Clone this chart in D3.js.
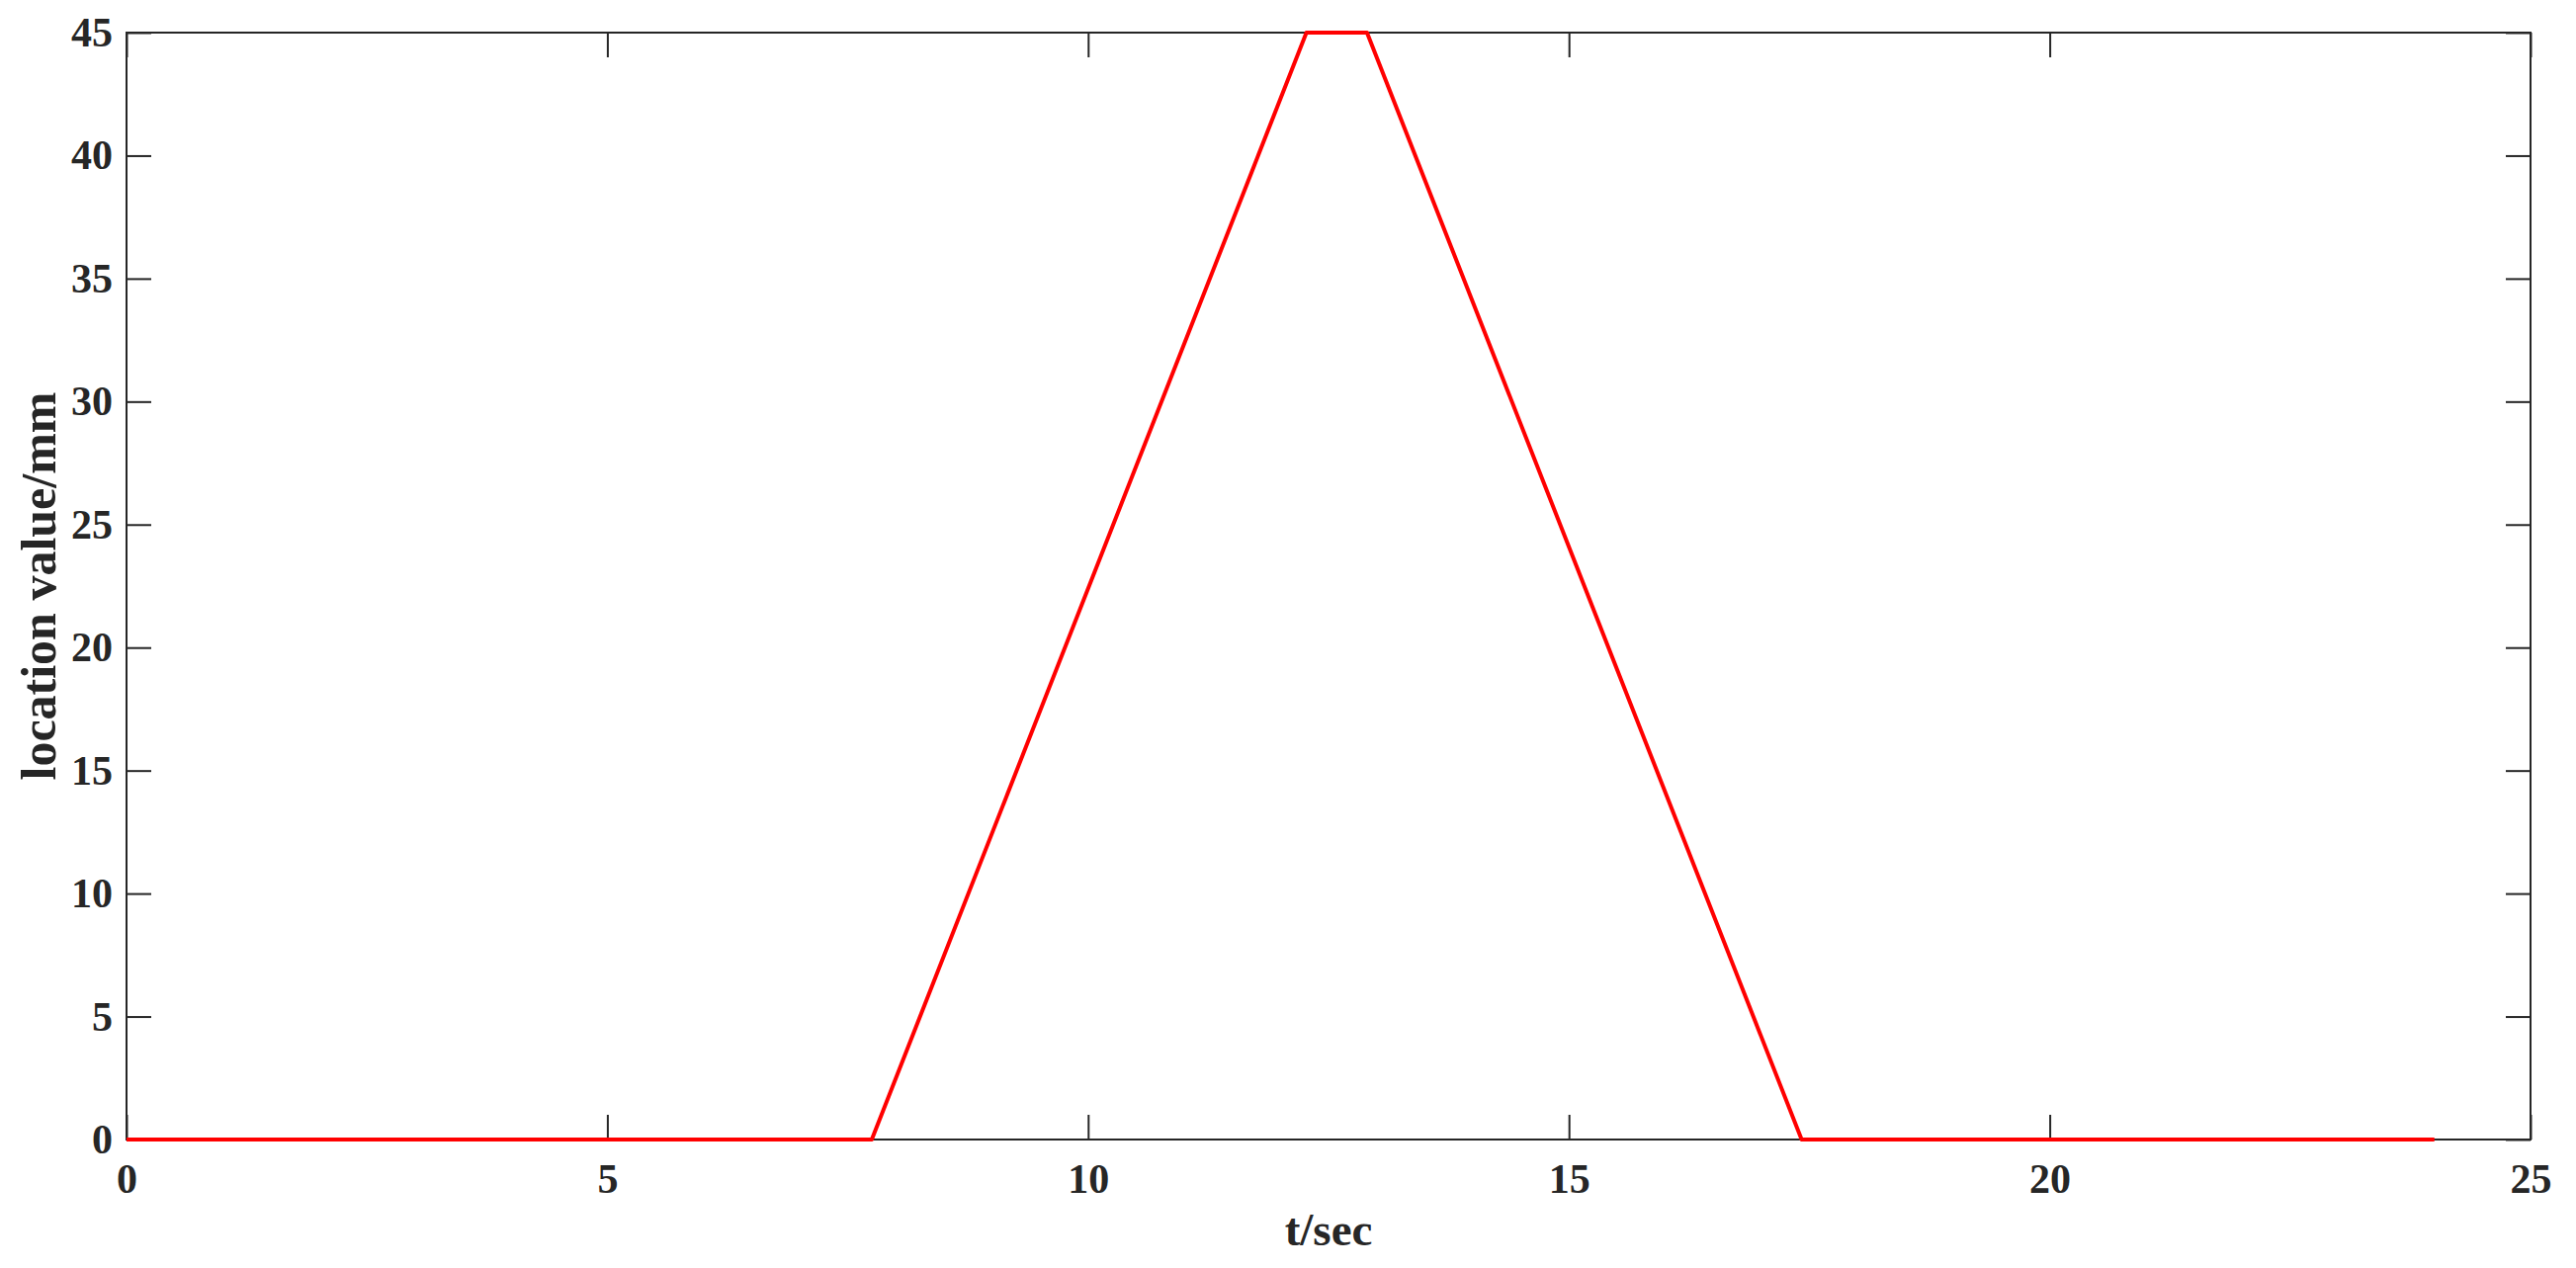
<!DOCTYPE html>
<html>
<head>
<meta charset="utf-8">
<script src="https://cdn.jsdelivr.net/npm/d3@7"></script>
<style>
  body { margin: 0; background: #fff; }
  svg text { font-family: "Liberation Serif", "Times New Roman", serif; font-weight: bold; fill: #262626; }
</style>
</head>
<body>
<svg id="chart"></svg>
<script>
// values
const timeValues = [0, 7.75, 12.27, 12.9, 17.42, 24];
const locationValues = [0, 0, 45, 45, 0, 0];
const xTicks = [0, 5, 10, 15, 20, 25];
const yTicks = [0, 5, 10, 15, 20, 25, 30, 35, 40, 45];

const width = 2606, height = 1283;
const margin = { left: 128, right: 46, top: 33, bottom: 130 };

const svg = d3.select('#chart')
    .attr('width', width)
    .attr('height', height);

const x = d3.scaleLinear()
    .domain([0, 25])
    .range([margin.left, width - margin.right]);

const y = d3.scaleLinear()
    .domain([0, 45])
    .range([height - margin.bottom, margin.top]);

const axisColor = '#262626';
const tickLen = 25;

function styleAxis(g) {
    g.select('.domain').remove();
    g.selectAll('line').attr('stroke', axisColor).attr('stroke-width', 2);
    g.selectAll('text').attr('fill', axisColor).style('font-size', '42px');
}

// bottom axis with labels, ticks pointing inwards
svg.append('g')
    .attr('transform', `translate(0,${y(0)})`)
    .call(d3.axisBottom(x).tickValues(xTicks).tickSizeInner(-tickLen).tickSizeOuter(0).tickPadding(24))
    .call(styleAxis);

// top mirror ticks
svg.append('g')
    .attr('transform', `translate(0,${y(45)})`)
    .call(d3.axisTop(x).tickValues(xTicks).tickSizeInner(-tickLen).tickSizeOuter(0).tickFormat(''))
    .call(styleAxis);

// left axis with labels
svg.append('g')
    .attr('transform', `translate(${x(0)},0)`)
    .call(d3.axisLeft(y).tickValues(yTicks).tickSizeInner(-tickLen).tickSizeOuter(0).tickPadding(14))
    .call(styleAxis);

// right mirror ticks
svg.append('g')
    .attr('transform', `translate(${x(25)},0)`)
    .call(d3.axisRight(y).tickValues(yTicks).tickSizeInner(-tickLen).tickSizeOuter(0).tickFormat(''))
    .call(styleAxis);

// frame
svg.append('rect')
    .attr('x', x(0))
    .attr('y', y(45))
    .attr('width', x(25) - x(0))
    .attr('height', y(0) - y(45))
    .attr('fill', 'none')
    .attr('stroke', axisColor)
    .attr('stroke-width', 2);

const data = timeValues.map((t, i) => ({ t: t, v: locationValues[i] }));

const line = d3.line()
    .x(d => x(d.t))
    .y(d => y(d.v));

svg.append('path')
    .datum(data)
    .attr('d', line)
    .attr('fill', 'none')
    .attr('stroke', '#ff0000')
    .attr('stroke-width', 4)
    .attr('stroke-linejoin', 'round');

// axis titles
svg.append('text')
    .attr('x', (x(0) + x(25)) / 2)
    .attr('y', 1260)
    .attr('text-anchor', 'middle')
    .style('font-size', '47px')
    .text('t/sec');

svg.append('text')
    .attr('transform', `translate(56,${(y(0) + y(45)) / 2}) rotate(-90)`)
    .attr('text-anchor', 'middle')
    .style('font-size', '50px')
    .text('location value/mm');
</script>
</body>
</html>
